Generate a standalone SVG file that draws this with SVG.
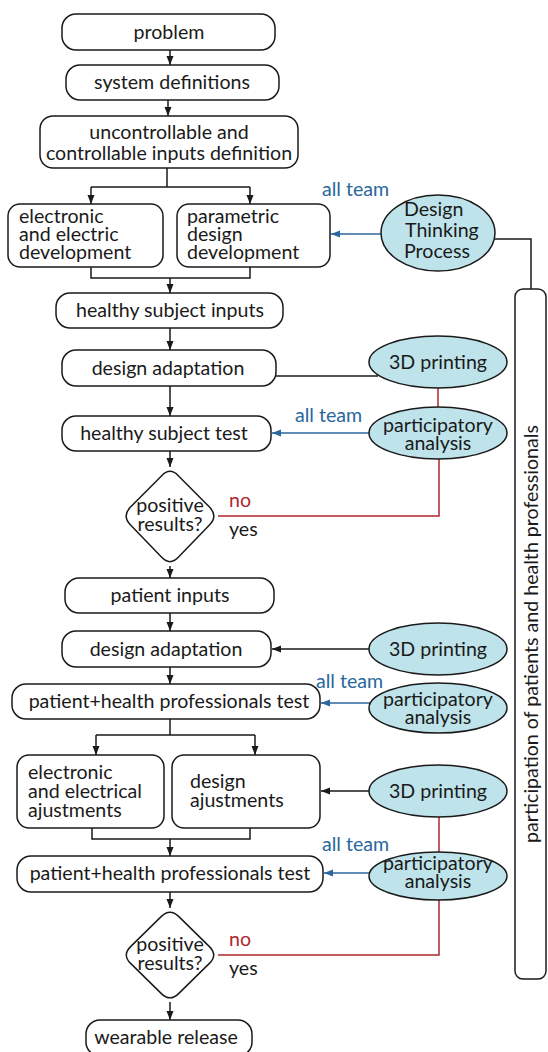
<svg xmlns="http://www.w3.org/2000/svg" width="548" height="1052" viewBox="0 0 548 1052">
<style>
.b{fill:#fff;stroke:#1a1a1a;stroke-width:1.5}
.e{fill:#bfe3ea;stroke:#1a1a1a;stroke-width:1.5}
.t{font-family:Lato,"Liberation Sans",sans-serif;font-size:19.6px;fill:#1a1a1a}
.m{text-anchor:middle}
.k{fill:none;stroke:#1a1a1a;stroke-width:1.5}
.bl{fill:none;stroke:#2a679c;stroke-width:1.5}
.rd{fill:none;stroke:#b1262c;stroke-width:1.5}
.bt{fill:#2a679c}
.rt{fill:#b1262c}
</style>
<defs>
<marker id="ak" markerUnits="userSpaceOnUse" markerWidth="9" markerHeight="8" refX="9" refY="4" orient="auto"><path d="M0,0.5 L9,4 L0,7.5 z" fill="#1a1a1a"/></marker>
<marker id="ab" markerUnits="userSpaceOnUse" markerWidth="9" markerHeight="8" refX="9" refY="4" orient="auto"><path d="M0,0.5 L9,4 L0,7.5 z" fill="#2a679c"/></marker>
</defs>
<rect width="548" height="1052" fill="#fff"/>

<g id="connectors">
<line class="k" x1="170" y1="50" x2="170" y2="65" marker-end="url(#ak)"/>
<line class="k" x1="168" y1="100" x2="168" y2="116" marker-end="url(#ak)"/>
<path class="k" d="M167,168 V187 M91,187 H250"/>
<line class="k" x1="91" y1="187" x2="91" y2="204" marker-end="url(#ak)"/>
<line class="k" x1="250" y1="187" x2="250" y2="204" marker-end="url(#ak)"/>
<path class="k" d="M91,267 V278 H250 V267"/>
<line class="k" x1="170" y1="278" x2="170" y2="293" marker-end="url(#ak)"/>
<line class="k" x1="170" y1="328" x2="170" y2="350" marker-end="url(#ak)"/>
<line class="k" x1="170" y1="386" x2="170" y2="416" marker-end="url(#ak)"/>
<line class="k" x1="170" y1="451" x2="170" y2="467" marker-end="url(#ak)"/>
<line class="k" x1="170" y1="566" x2="170" y2="578" marker-end="url(#ak)"/>
<line class="k" x1="170" y1="613" x2="170" y2="631" marker-end="url(#ak)"/>
<line class="k" x1="170" y1="667" x2="170" y2="684" marker-end="url(#ak)"/>
<path class="k" d="M170,719 V735 M96,735 H255"/>
<line class="k" x1="96" y1="735" x2="96" y2="755" marker-end="url(#ak)"/>
<line class="k" x1="255" y1="735" x2="255" y2="755" marker-end="url(#ak)"/>
<path class="k" d="M92,828 V839 H250 V828"/>
<line class="k" x1="170" y1="839" x2="170" y2="856" marker-end="url(#ak)"/>
<line class="k" x1="170" y1="892" x2="170" y2="908" marker-end="url(#ak)"/>
<line class="k" x1="170" y1="1002" x2="170" y2="1020" marker-end="url(#ak)"/>

<line class="bl" x1="382" y1="234" x2="331" y2="234" marker-end="url(#ab)"/>
<path class="k" d="M494,239 H531 V289"/>
<line class="k" x1="276" y1="376" x2="378" y2="376"/>
<line class="rd" x1="438" y1="388" x2="438" y2="407"/>
<line class="bl" x1="370" y1="433" x2="272" y2="433" marker-end="url(#ab)"/>
<path class="rd" d="M218,516 H439 V459"/>
<line class="k" x1="370" y1="649" x2="272" y2="649" marker-end="url(#ak)"/>
<line class="bl" x1="370" y1="703" x2="321" y2="703" marker-end="url(#ab)"/>
<line class="k" x1="370" y1="791" x2="321" y2="791" marker-end="url(#ak)"/>
<line class="rd" x1="439" y1="817" x2="439" y2="852"/>
<line class="bl" x1="370" y1="873" x2="324" y2="873" marker-end="url(#ab)"/>
<path class="rd" d="M218,955 H439 V900"/>

<text class="t bt" x="322" y="196">all team</text>
<text class="t bt" x="295" y="422">all team</text>
<text class="t bt" x="316" y="688">all team</text>
<text class="t bt" x="322" y="851">all team</text>
<text class="t rt" x="229" y="507">no</text>
<text class="t" x="229" y="536">yes</text>
<text class="t rt" x="229" y="946">no</text>
<text class="t" x="229" y="975">yes</text>
</g>

<g id="problem"><rect class="b" x="62" y="14" width="213" height="36" rx="14"/><text class="t m" x="169" y="39">problem</text></g>
<g id="system-definitions"><rect class="b" x="66" y="65" width="213" height="35" rx="14"/><text class="t m" x="172" y="89">system definitions</text></g>
<g id="inputs-definition"><rect class="b" x="40" y="116" width="258" height="52" rx="13"/><text class="t m" x="169" y="139">uncontrollable and</text><text class="t m" x="169" y="160">controllable inputs definition</text></g>
<g id="electronic-development"><rect class="b" x="8" y="204" width="155" height="63" rx="12"/><text class="t" x="19" y="223">electronic</text><text class="t" x="19" y="241">and electric</text><text class="t" x="19" y="259">development</text></g>
<g id="parametric-development"><rect class="b" x="177" y="204" width="153" height="63" rx="12"/><text class="t" x="187" y="223">parametric</text><text class="t" x="187" y="241">design</text><text class="t" x="187" y="259">development</text></g>
<g id="healthy-subject-inputs"><rect class="b" x="56" y="293" width="227" height="35" rx="14"/><text class="t m" x="170" y="317">healthy subject inputs</text></g>
<g id="design-adaptation-1"><rect class="b" x="62" y="350" width="214" height="36" rx="14"/><text class="t m" x="168" y="375">design adaptation</text></g>
<g id="healthy-subject-test"><rect class="b" x="62" y="416" width="209" height="35" rx="14"/><text class="t m" x="164" y="440">healthy subject test</text></g>
<g id="decision-1"><path class="b" d="M178.3,475.7 L209.7,507.3 Q218,516 209.7,524.7 L178.3,557.3 Q170,566 161.7,557.3 L130.3,524.7 Q122,516 130.3,507.3 L161.7,475.7 Q170,467 178.3,475.7 Z"/><text class="t m" x="170" y="512">positive</text><text class="t m" x="170" y="531">results?</text></g>
<g id="patient-inputs"><rect class="b" x="65" y="578" width="209" height="35" rx="14"/><text class="t m" x="170" y="602">patient inputs</text></g>
<g id="design-adaptation-2"><rect class="b" x="62" y="631" width="209" height="36" rx="14"/><text class="t m" x="166" y="656">design adaptation</text></g>
<g id="patient-test-1"><rect class="b" x="12" y="684" width="308" height="35" rx="14"/><text class="t m" x="169" y="708">patient+health professionals test</text></g>
<g id="electrical-ajustments"><rect class="b" x="17" y="755" width="147" height="73" rx="12"/><text class="t" x="28" y="779">electronic</text><text class="t" x="28" y="798">and electrical</text><text class="t" x="28" y="817">ajustments</text></g>
<g id="design-ajustments"><rect class="b" x="172" y="755" width="148" height="73" rx="12"/><text class="t" x="190" y="788">design</text><text class="t" x="190" y="807">ajustments</text></g>
<g id="patient-test-2"><rect class="b" x="17" y="856" width="306" height="36" rx="14"/><text class="t m" x="170" y="880">patient+health professionals test</text></g>
<g id="decision-2"><path class="b" d="M178.6,916.4 L209.4,946.6 Q218,955 209.4,963.4 L178.6,993.6 Q170,1002 161.4,993.6 L130.6,963.4 Q122,955 130.6,946.6 L161.4,916.4 Q170,908 178.6,916.4 Z"/><text class="t m" x="170" y="951">positive</text><text class="t m" x="170" y="970">results?</text></g>
<g id="wearable-release"><rect class="b" x="86" y="1020" width="166" height="36" rx="14"/><text class="t m" x="166" y="1044">wearable release</text></g>

<g id="design-thinking-process"><ellipse class="e" cx="438" cy="233" rx="57" ry="38"/><text class="t" x="404" y="216">Design</text><text class="t" x="405" y="237">Thinking</text><text class="t" x="404" y="258">Process</text></g>
<g id="printing-1"><ellipse class="e" cx="438" cy="362" rx="69" ry="26"/><text class="t m" x="438" y="369">3D printing</text></g>
<g id="participatory-1"><ellipse class="e" cx="438" cy="433" rx="69" ry="26"/><text class="t m" x="438" y="432">participatory</text><text class="t m" x="438" y="450">analysis</text></g>
<g id="printing-2"><ellipse class="e" cx="438" cy="649" rx="69" ry="26"/><text class="t m" x="438" y="656">3D printing</text></g>
<g id="participatory-2"><ellipse class="e" cx="438" cy="708" rx="69" ry="25"/><text class="t m" x="438" y="706">participatory</text><text class="t m" x="438" y="724">analysis</text></g>
<g id="printing-3"><ellipse class="e" cx="438" cy="791" rx="69" ry="26"/><text class="t m" x="438" y="798">3D printing</text></g>
<g id="participatory-3"><ellipse class="e" cx="438" cy="876" rx="69" ry="24"/><text class="t m" x="438" y="870">participatory</text><text class="t m" x="438" y="888">analysis</text></g>

<g id="participation"><rect class="b" x="515" y="289" width="31" height="690" rx="8"/><text class="t m" transform="translate(538,634) rotate(-90)" x="0" y="0">participation of patients and health professionals</text></g>
</svg>
